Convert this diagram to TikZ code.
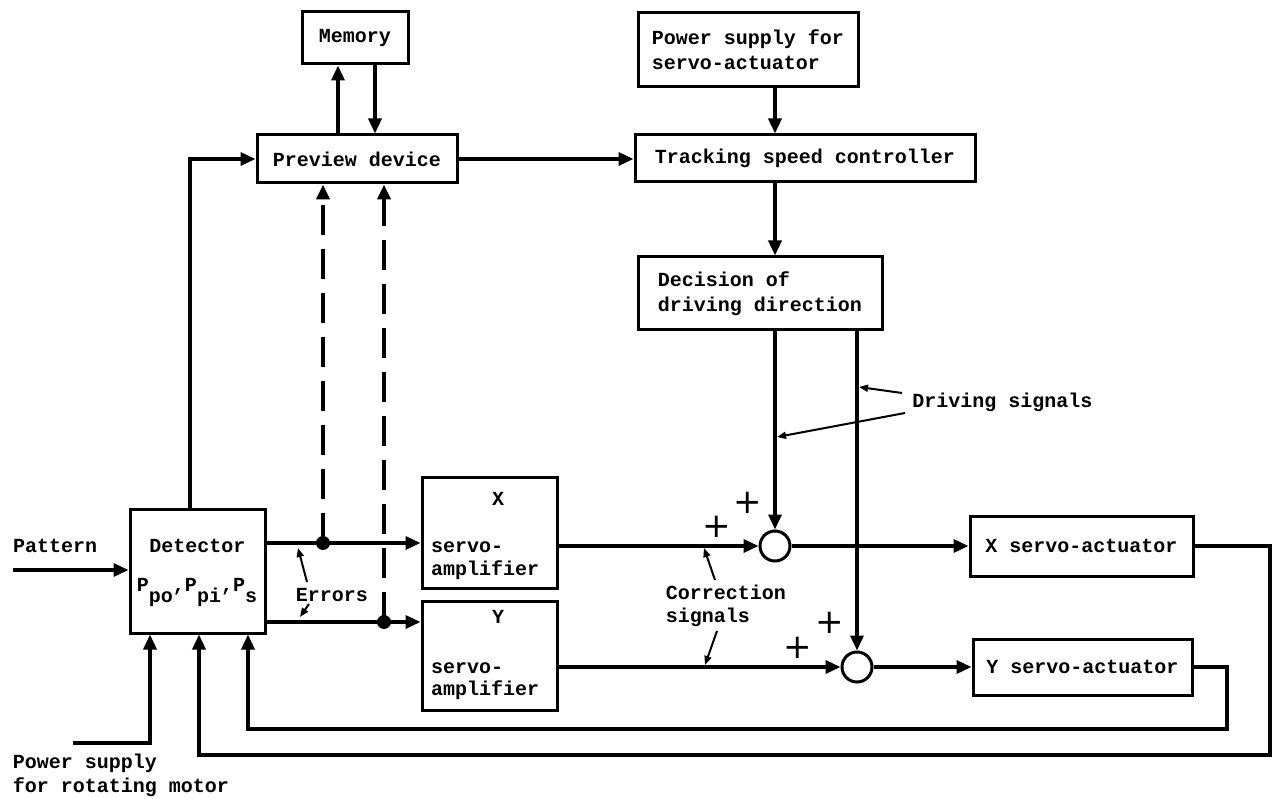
\documentclass[tikz,border=0pt]{standalone}
\usepackage{fontspec}
\setmainfont{Liberation Mono}
\newfontfamily\plusfont{DejaVu Sans}
\usetikzlibrary{arrows.meta}
\begin{document}
\begin{tikzpicture}[x=1pt,y=-1pt,
  font=\fontsize{20}{25}\selectfont\bfseries,
  box/.style={draw,line width=3pt,inner sep=0pt},
  arr/.style={line width=3.5pt,-{Triangle[length=15pt,width=13pt]}},
  lead/.style={line width=2pt,-{Triangle[length=9pt,width=7pt]}},
  txt/.style={inner sep=0pt,anchor=west},
  sumc/.style={circle,draw,line width=3pt,minimum size=30pt,inner sep=0pt},
  dsh/.style={line width=4pt,dash pattern=on 30pt off 14pt,-{Triangle[length=15pt,width=13pt]}},
  jdot/.style={circle,fill,inner sep=0pt,minimum size=14pt},
  plus/.style={font=\plusfont\fontsize{34}{34}\selectfont,inner sep=0pt}]
\useasboundingbox[fill=white] (0,0) rectangle (1283,799);

% boxes
\node[box,minimum width=106pt,minimum height=52pt] (mem) at (355,38) {Memory};
\node[box,minimum width=200pt,minimum height=48pt] (prev) at (357,159) {Preview device};
\node[box,minimum width=220pt,minimum height=74pt,align=left] (pow) at (748,50) {Power supply for\\servo-actuator};
\node[box,minimum width=340pt,minimum height=47pt] (trk) at (805,158.5) {Tracking speed controller};
\node[box,minimum width=244pt,minimum height=73pt,align=left] (dec) at (760,293.5) {Decision of\\driving direction};
\node[box,minimum width=135pt,minimum height=124pt] (det) at (197.5,571) {};
\node[inner sep=0pt] (detA) at (197.5,546) {Detector};
\node[inner sep=0pt] (detB) at (197,592) {P\raisebox{-0.55em}{po},P\raisebox{-0.55em}{pi},P\raisebox{-0.55em}{s}};
\node[box,minimum width=135pt,minimum height=110pt] (xamp) at (489.5,533) {};
\node[inner sep=0pt] (xampA) at (498,499) {X};
\node[txt] (xampB) at (431,547) {servo-};
\node[txt] (xampC) at (431,570) {amplifier};
\node[box,minimum width=135pt,minimum height=109pt] (yamp) at (489.5,655.5) {};
\node[inner sep=0pt] (yampA) at (498,617) {Y};
\node[txt] (yampB) at (431,668) {servo-};
\node[txt] (yampC) at (431,690) {amplifier};
\node[sumc] (xs) at (775,546) {};
\node[sumc] (ys) at (857,667) {};
\node[box,minimum width=223pt,minimum height=60pt] (xact) at (1081.5,546) {X servo-actuator};
\node[box,minimum width=219pt,minimum height=56pt] (yact) at (1082.5,667) {Y servo-actuator};

% labels
\node[txt] (pat) at (13,546) {Pattern};
\node[inner sep=0pt,align=left,font=\fontsize{20}{24}\selectfont\bfseries] (pmot) at (121,775) {Power supply\\for rotating motor};
\node[inner sep=0pt] (err) at (332,595) {Errors};
\node[inner sep=0pt,align=left,font=\fontsize{20}{23}\selectfont\bfseries] (corr) at (726,606) {Correction\\signals};
\node[inner sep=0pt] (drv) at (1002.5,402) {Driving signals};
\node[plus] (p1) at (748,503) {+};
\node[plus] (p2) at (717,527) {+};
\node[plus] (p3) at (830,623) {+};
\node[plus] (p4) at (798,648) {+};

% coordinates
\coordinate (patS) at (13,570);
\coordinate (pmS) at (73,743);
\coordinate (c150) at (150,0);
\coordinate (c199) at (199,0);
\coordinate (c248) at (248,0);
\coordinate (c190) at (190,0);
\coordinate (c338) at (338,0);
\coordinate (c375) at (375,0);
\coordinate (e1) at (323,543);
\coordinate (e2) at (384,622);
\coordinate (xr1) at (1270,755);
\coordinate (yr1) at (1227,729);

% connectors
\draw[arr] (patS) -- (patS -| det.west);
\draw[arr] (det.north -| c190) |- (prev.west);
\draw[arr] (prev.north -| c338) -- (mem.south -| c338);
\draw[arr] (mem.south -| c375) -- (prev.north -| c375);
\draw[arr] (prev.east) -- (prev.east -| trk.west);
\draw[arr] (pow.south -| xs) -- (trk.north -| xs);
\draw[arr] (trk.south -| xs) -- (dec.north -| xs);
\draw[arr] (dec.south -| xs) -- (xs.north);
\draw[arr] (dec.south -| ys) -- (ys.north);
\draw[arr] (xs.west -| xamp.east) -- (xs.west);
\draw[arr] (ys.west -| yamp.east) -- (ys.west);
\draw[arr] (xs.east) -- (xact.west);
\draw[arr] (ys.east) -- (yact.west);
\draw[arr] (xact.east) -| (xr1) -| (det.south -| c199);
\draw[arr] (yact.east) -| (yr1) -| (det.south -| c248);
\draw[arr] (pmS) -| (det.south -| c150);
\draw[arr] (e1 -| det.east) -- (e1 -| xamp.west);
\draw[arr] (e2 -| det.east) -- (e2 -| yamp.west);
\node[jdot] (d1) at (e1) {};
\node[jdot] (d2) at (e2) {};
\draw[dsh] (d1.center) -- (prev.south -| d1);
\draw[dsh] (d2.center) -- (prev.south -| d2);

% leaders
\coordinate (erA) at (307,582);
\coordinate (erB) at (298,548);
\coordinate (erC) at (309,604);
\coordinate (erD) at (300,617);
\draw[lead] (erA) -- (erB);
\draw[lead] (erC) -- (erD);
\coordinate (coA) at (715,580);
\coordinate (coB) at (704,548);
\coordinate (coC) at (717,631);
\coordinate (coD) at (705,665);
\draw[lead] (coA) -- (coB);
\draw[lead] (coC) -- (coD);
\coordinate (drA) at (902,393);
\coordinate (drB) at (859,387);
\coordinate (drC) at (905,413);
\coordinate (drD) at (777,437);
\draw[lead] (drA) -- (drB);
\draw[lead] (drC) -- (drD);
\end{tikzpicture}
\end{document}
